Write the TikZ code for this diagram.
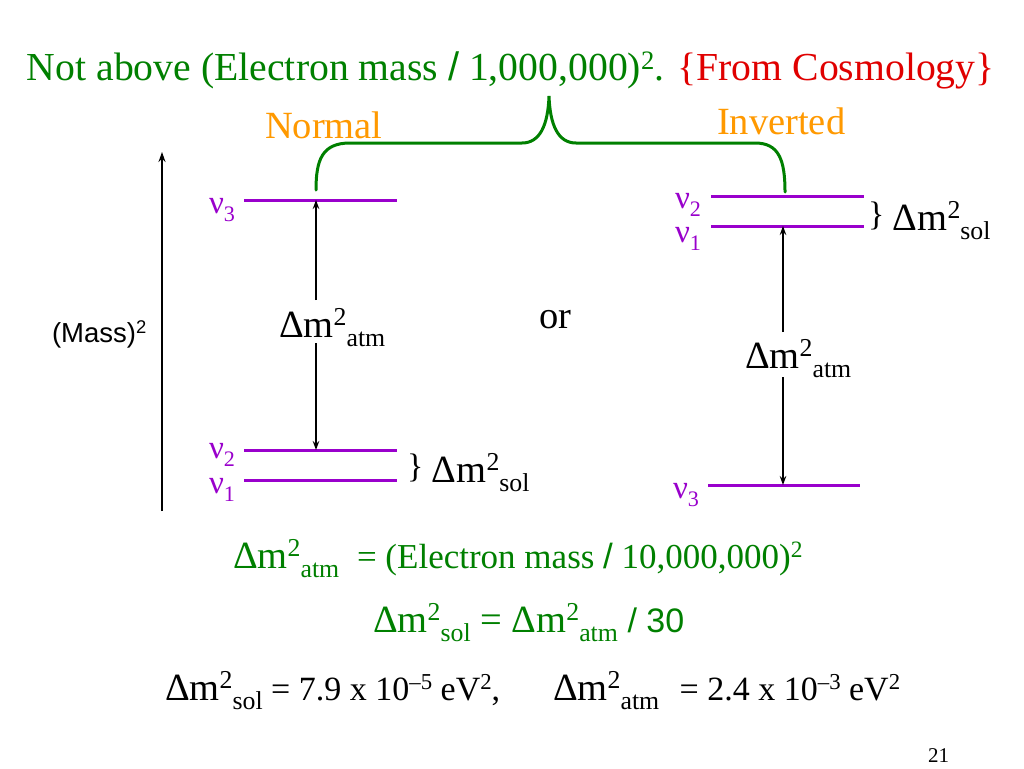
\documentclass[tikz,border=0pt]{standalone}
\usepackage{graphicx}
\usepackage{fontspec}
\setmainfont{Liberation Serif}
\newfontfamily\arialfont{Liberation Sans}
\usetikzlibrary{arrows.meta}
\definecolor{tgreen}{RGB}{0,128,0}
\definecolor{tred}{RGB}{224,0,0}
\definecolor{torange}{RGB}{255,153,0}
\definecolor{tpurple}{RGB}{153,0,204}
\newcommand{\spx}[1]{\raisebox{0.3em}{\scalebox{0.67}{#1}}}
\newcommand{\sbx}[1]{\raisebox{-0.25em}{\scalebox{0.67}{#1}}}
\newcommand{\fs}[1]{\fontsize{#1}{#1}\selectfont}
\newcommand{\dmatm}{Δm\spx{2}\sbx{atm}}
\newcommand{\dmsol}{Δm\spx{2}\sbx{sol}}
\newcommand{\solbrace}{{\fs{34}\raisebox{0.12em}{\}}}\hspace{0.22em}}
\begin{document}
\begin{tikzpicture}[x=1pt,y=-1pt,
  txt/.style={anchor=base west,inner sep=0pt,outer sep=0pt},
  big/.style={txt,font=\fs{38.5}},
  nu/.style={txt,font=\fs{33},text=tpurple},
  level/.style={draw=tpurple,line width=3pt},
  gaparrow/.style={-{Stealth[length=9pt,width=6.5pt]},line width=1.4pt},
  bracestyle/.style={draw=tgreen,line width=3pt,line cap=round},
]
\useasboundingbox[fill=white] (0,0) rectangle (1024,768);

% title
\node[txt,font=\fs{39.7},text=tgreen] (title) at (27,81) {Not above (Electron mass {\arialfont /} 1,000,000)\spx{2}. \textcolor{tred}{\{From Cosmology\}}};
\node[big,text=torange] (normal) at (265,138) {Normal};
\node[big,text=torange] (inverted) at (717,134) {Inverted};

% brace
\coordinate (bl) at (316,190);
\coordinate (bp) at (549,96);
\coordinate (br) at (785,192);
\draw[bracestyle] (bl) .. controls (316,160) and (322,143) .. (350,143) -- (522,143)
  .. controls (540,143) and (548,125) .. (bp)
  .. controls (550,125) and (558,143) .. (576,143) -- (755,143)
  .. controls (779,143) and (785,160) .. (br);

% mass axis
\coordinate (ax0) at (162,511);
\coordinate (ax1) at (162,152);
\draw[-{Stealth[length=10pt,width=7pt]},line width=1.8pt] (ax0) -- (ax1);
\node[txt,font=\arialfont\fs{27.5}] (mass) at (52,342) {(Mass)\spx{2}};

% normal hierarchy levels
\coordinate (n3a) at (244,200); \coordinate (n3b) at (397,200);
\coordinate (n2a) at (244,450); \coordinate (n2b) at (397,450);
\coordinate (n1a) at (244,480); \coordinate (n1b) at (397,480);
\draw[level] (n3a) -- (n3b);
\draw[level] (n2a) -- (n2b);
\draw[level] (n1a) -- (n1b);
\node[nu] (ln3) at (209,213) {ν\sbx{3}};
\node[nu] (ln2) at (209,458) {ν\sbx{2}};
\node[nu] (ln1) at (209,493) {ν\sbx{1}};
\node[big] (latm) at (279,337) {\dmatm};
\node[big] (lsol) at (407,482) {\solbrace\dmsol};
\coordinate (lt) at (316,200); \coordinate (lg1) at (316,300);
\coordinate (lb) at (316,450); \coordinate (lg2) at (316,343);
\draw[gaparrow] (lg1) -- (lt);
\draw[gaparrow] (lg2) -- (lb);

\node[big] (or) at (539,328) {or};

% inverted hierarchy levels
\coordinate (i2a) at (711,196); \coordinate (i2b) at (864,196);
\coordinate (i1a) at (711,226); \coordinate (i1b) at (864,226);
\coordinate (i3a) at (708,485); \coordinate (i3b) at (860,485);
\draw[level] (i2a) -- (i2b);
\draw[level] (i1a) -- (i1b);
\draw[level] (i3a) -- (i3b);
\node[nu] (rn2) at (675,208) {ν\sbx{2}};
\node[nu] (rn1) at (675,242) {ν\sbx{1}};
\node[nu] (rn3) at (673,498) {ν\sbx{3}};
\node[big] (rsol) at (868,230) {\solbrace\dmsol};
\node[big] (ratm) at (745,368) {\dmatm};
\coordinate (rt) at (783,226); \coordinate (rg1) at (783,332);
\coordinate (rb) at (783,485); \coordinate (rg2) at (783,377);
\draw[gaparrow] (rg1) -- (rt);
\draw[gaparrow] (rg2) -- (rb);

% equations
\node[big,text=tgreen] (eq1a) at (233,568) {\dmatm};
\node[txt,font=\fs{35},text=tgreen] (eq1b) at (357,568) {= (Electron mass {\arialfont /} 10,000,000)\spx{2}};
\node[big,text=tgreen] (eq2) at (373,632) {\dmsol{} = \dmatm{} {\arialfont\fs{34}/ 30}};
\node[big] (eq3a) at (165,700) {\dmsol{\fs{34} = 7.9 x 10\spx{–5} eV\spx{2},}};
\node[big] (eq3b) at (553,700) {\dmatm{\fs{34}\hspace{0.35em} = 2.4 x 10\spx{–3} eV\spx{2}}};
\node[txt,font=\fs{21}] (page) at (928,762) {21};
\end{tikzpicture}
\end{document}
